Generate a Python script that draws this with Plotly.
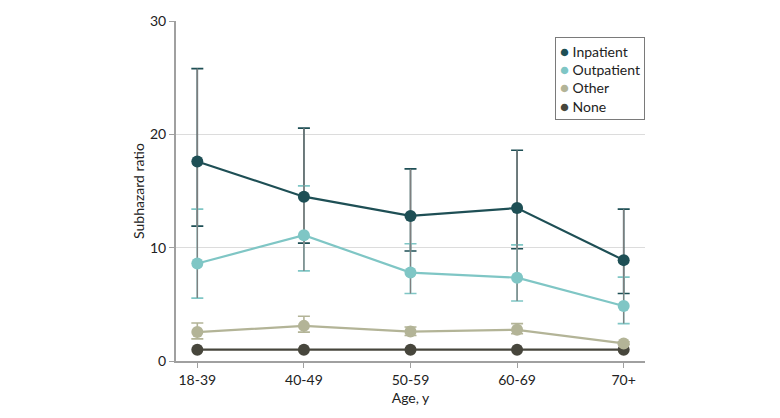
import plotly.graph_objects as go

ages = ["18-39", "40-49", "50-59", "60-69", "70+"]
series_names = ["Inpatient", "Outpatient", "Other", "None"]

inpatient = [17.6, 14.5, 12.8, 13.5, 8.9]
inpatient_lo = [11.9, 10.4, 9.7, 9.9, 5.95]
inpatient_hi = [25.8, 20.55, 16.95, 18.6, 13.4]

outpatient = [8.6, 11.1, 7.8, 7.35, 4.85]
outpatient_lo = [5.55, 7.95, 5.95, 5.3, 3.3]
outpatient_hi = [13.4, 15.45, 10.35, 10.25, 7.4]

other = [2.55, 3.1, 2.6, 2.75, 1.55]
other_lo = [1.95, 2.55, 2.25, 2.4, 1.45]
other_hi = [3.35, 3.95, 3.0, 3.3, 1.7]

none_vals = [1.0, 1.0, 1.0, 1.0, 1.0]

colors = {"Inpatient": "#1e4f55", "Outpatient": "#7fc6c5", "Other": "#b3b497", "None": "#47463c"}
err_gray = "#7f7f7f"

data = {
    "Inpatient": (inpatient, inpatient_lo, inpatient_hi),
    "Outpatient": (outpatient, outpatient_lo, outpatient_hi),
    "Other": (other, other_lo, other_hi),
    "None": (none_vals, None, None),
}

fig = go.Figure()

# colored caps
for name in series_names:
    v, lo, hi = data[name]
    if lo is None:
        continue
    fig.add_trace(go.Scatter(
        x=ages, y=v, mode="markers", showlegend=False, hoverinfo="skip",
        marker=dict(size=1, color="rgba(0,0,0,0)"),
        error_y=dict(type="data", symmetric=False,
                     array=[h - a for h, a in zip(hi, v)],
                     arrayminus=[a - l for a, l in zip(v, lo)],
                     color=colors[name], thickness=1.6, width=6),
    ))

# gray stems for inpatient/outpatient
for name in ["Inpatient", "Outpatient"]:
    v, lo, hi = data[name]
    fig.add_trace(go.Scatter(
        x=ages, y=v, mode="markers", showlegend=False, hoverinfo="skip",
        marker=dict(size=1, color="rgba(0,0,0,0)"),
        error_y=dict(type="data", symmetric=False,
                     array=[h - a for h, a in zip(hi, v)],
                     arrayminus=[a - l for a, l in zip(v, lo)],
                     color=err_gray, thickness=1.3, width=0),
    ))

# lines + markers
for name in reversed(series_names):
    v, lo, hi = data[name]
    fig.add_trace(go.Scatter(
        x=ages, y=v, mode="lines+markers", showlegend=False, name=name,
        line=dict(color=colors[name], width=2.2),
        marker=dict(size=12, color=colors[name]),
    ))

# compact legend as a bordered annotation
legend_text = "<br>".join(
    f"<span style='color:{colors[n]};font-size:15px'>●</span> {n}" for n in series_names
)
fig.add_annotation(
    xref="paper", yref="paper", x=1, y=0.952, xanchor="right", yanchor="top",
    text=legend_text, showarrow=False, align="left",
    font=dict(size=14, color="#222"),
    bordercolor="#7a7a7a", borderwidth=1, borderpad=4, bgcolor="white",
)

# page body has an 8px margin; compensate so the plot area lands where intended
fig.update_layout(
    width=780, height=418,
    margin=dict(l=168, r=143, t=13, b=65),
    showlegend=False,
    plot_bgcolor="white", paper_bgcolor="white",
    font=dict(family="Lato, Open Sans, sans-serif", size=13, color="#222"),
    xaxis=dict(type="category", range=[-0.2, 4.2], showgrid=False,
               showline=True, linecolor="#a0a0a0", linewidth=2,
               ticks="outside", ticklen=5, tickcolor="#a0a0a0",
               tickfont=dict(size=14), automargin=False,
               title=dict(text="Age, y", font=dict(size=14), standoff=6)),
    yaxis=dict(range=[0, 30], tickvals=[0, 10, 20, 30],
               showgrid=True, gridcolor="#dcdcdc", gridwidth=1,
               showline=True, linecolor="#a0a0a0", linewidth=2,
               ticks="outside", ticklen=5, tickcolor="#a0a0a0",
               tickfont=dict(size=14), zeroline=False, automargin=False,
               title=dict(text="Subhazard ratio", font=dict(size=14), standoff=2)),
)

fig.write_html("out.html")
